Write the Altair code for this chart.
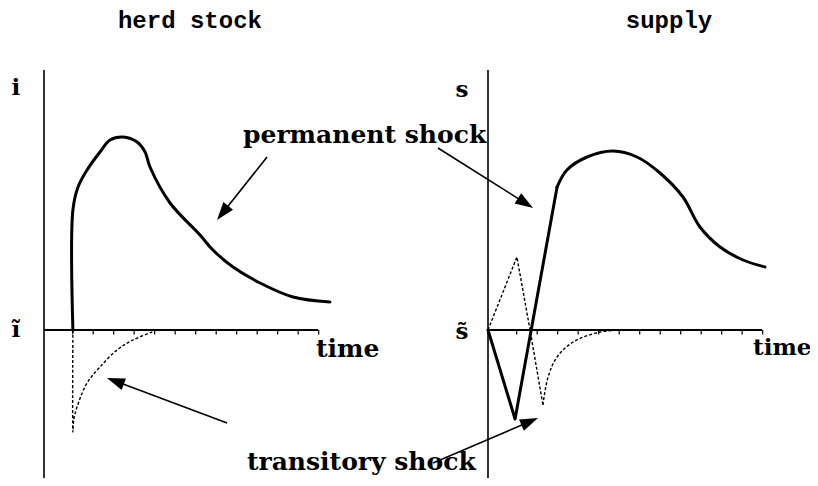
import math
import altair as alt
import pandas as pd

# ---------------- data (time units, deviation units) ----------------
left_perm_t = [1.41, 1.41, 1.66, 2.10, 2.73, 3.22, 3.85, 4.54, 4.93, 5.17, 6.15, 7.61, 8.24, 9.22, 10.54, 12.15, 13.95]
left_perm_v = [0, 12.0, 14.3, 16.0, 17.8, 19.0, 19.3, 18.8, 17.8, 16.3, 12.7, 9.5, 8.0, 6.3, 4.7, 3.3, 2.8]

left_trans_t = [1.41, 1.41, 1.45, 1.61, 2.10, 2.73, 3.56, 4.34, 5.41]
left_trans_v = [0, -10.2, -9.0, -7.7, -5.3, -3.7, -2.0, -1.0, -0.1]

right_perm_zig_t = [0, 1.32, 3.37]
right_perm_zig_v = [0, -8.9, 14.3]
right_perm_curve_t = [3.37, 3.85, 4.83, 6.10, 7.27, 8.39, 9.51, 10.34, 11.32, 12.44, 13.51]
right_perm_curve_v = [14.3, 16.0, 17.3, 17.9, 17.3, 15.7, 13.3, 10.3, 8.3, 7.0, 6.3]

right_trans_zig_t = [0, 1.41, 2.05, 2.68]
right_trans_zig_v = [0, 7.3, 0, -7.5]
right_trans_curve_t = [2.68, 2.93, 3.37, 4.15, 5.46, 6.44]
right_trans_curve_v = [-7.5, -4.7, -2.7, -1.2, -0.2, 0]

tick_t = [1.4, 2.4, 3.4, 4.4, 5.4, 6.4, 7.4, 8.4, 9.4, 10.4, 11.4, 12.4, 13.4]

panel_titles = ["herd stock", "supply"]
axis_top_labels = ["i", "s"]
axis_zero_labels = ["ĩ", "s̃"]
time_label = "time"
perm_label = "permanent shock"
trans_label = "transitory shock"

# ---------------- geometry ----------------
PX_T = 20.5          # pixels per time unit
PX_V = 10.0          # pixels per value unit
ORIGIN = {"L": 36, "R": 480}
T_DOM = [0, 14]
V_DOM = [-15, 26]
V_RANGE = [472, 62]
AXIS_END = 13.37

SERIF = "DejaVu Serif"
MONO = "Liberation Mono"
LABEL_SIZE = 25


def xs(p, field="t"):
    o = ORIGIN[p]
    return alt.X(f"{field}:Q", scale=alt.Scale(domain=T_DOM, range=[o, o + PX_T * (T_DOM[1] - T_DOM[0])]), axis=None)


def x2s(field="t2"):
    return alt.X2(f"{field}:Q")


def ys(field="v"):
    return alt.Y(f"{field}:Q", scale=alt.Scale(domain=V_DOM, range=V_RANGE), axis=None)


def series(ts, vs):
    return pd.DataFrame({"t": ts, "v": vs, "i": list(range(len(ts)))})


def line(p, ts, vs, dashed=False, interp="linear", width=3.0):
    kw = dict(color="black", strokeWidth=width, interpolate=interp, strokeCap="round", strokeJoin="round")
    if dashed:
        kw["strokeDash"] = [3, 2]
        kw["strokeWidth"] = 1.4
        kw["strokeCap"] = "butt"
    return alt.Chart(series(ts, vs)).mark_line(**kw).encode(
        x=xs(p), y=ys(), order=alt.Order("i:Q")
    )


layers = []

# axes
for p in ["L", "R"]:
    vaxis = pd.DataFrame({"t": [0], "v": [V_DOM[0]], "v2": [V_DOM[1]]})
    layers.append(alt.Chart(vaxis).mark_rule(color="black", strokeWidth=1.6).encode(
        x=xs(p), y=ys(), y2=alt.Y2("v2:Q")))
    haxis = pd.DataFrame({"t": [0], "t2": [AXIS_END], "v": [0]})
    layers.append(alt.Chart(haxis).mark_rule(color="black", strokeWidth=2.2).encode(
        x=xs(p), x2=x2s(), y=ys()))
    ticks = pd.DataFrame({"t": tick_t, "v": [0] * len(tick_t), "v2": [-0.45] * len(tick_t)})
    layers.append(alt.Chart(ticks).mark_rule(color="black", strokeWidth=1.2).encode(
        x=xs(p), y=ys(), y2=alt.Y2("v2:Q")))

# curves
layers.append(line("L", left_perm_t, left_perm_v, interp="catmull-rom"))
layers.append(line("L", left_trans_t, left_trans_v, dashed=True, interp="catmull-rom"))
layers.append(line("R", right_perm_zig_t, right_perm_zig_v))
layers.append(line("R", right_perm_curve_t, right_perm_curve_v, interp="catmull-rom"))
layers.append(line("R", right_trans_zig_t, right_trans_zig_v, dashed=True))
layers.append(line("R", right_trans_curve_t, right_trans_curve_v, dashed=True, interp="catmull-rom"))

# arrows: (panel, tail_t, tail_v, tip_t, tip_v)
arrows = [
    ("L", 10.88, 17.3, 8.44, 11.0),
    ("R", -2.44, 18.2, 2.20, 12.2),
    ("L", 8.93, -9.3, 3.07, -4.8),
    ("R", -2.68, -13.3, 2.44, -8.8),
]
HEAD = 18.0
for p, t0, v0, t1, v1 in arrows:
    dx = (t1 - t0) * PX_T
    dy = -(v1 - v0) * PX_V
    L = math.hypot(dx, dy)
    ux, uy = dx / L, dy / L
    ang = math.degrees(math.atan2(dx, -dy)) % 360
    ct = t1 - (HEAD / 2) * ux / PX_T
    cv = v1 + (HEAD / 2) * uy / PX_V
    bt = t1 - (HEAD * 0.8) * ux / PX_T
    bv = v1 + (HEAD * 0.8) * uy / PX_V
    seg = pd.DataFrame({"t": [t0], "v": [v0], "t2": [bt], "v2": [bv]})
    layers.append(alt.Chart(seg).mark_rule(color="black", strokeWidth=1.6).encode(
        x=xs(p), y=ys(), x2=x2s(), y2=alt.Y2("v2:Q")))
    head = pd.DataFrame({"t": [ct], "v": [cv], "a": [ang]})
    layers.append(alt.Chart(head).mark_point(
        shape="M0,-1L0.68,1L-0.68,1Z", filled=True, color="black", opacity=1, size=HEAD * HEAD, strokeWidth=0
    ).encode(x=xs(p), y=ys(), angle=alt.Angle("a:Q", scale=None)))


def text(p, t, v, s, size=LABEL_SIZE, font=SERIF, weight="bold", align="left"):
    df = pd.DataFrame({"t": [t], "v": [v], "s": [s]})
    return alt.Chart(df).mark_text(
        font=font, fontSize=size, fontWeight=weight, align=align, baseline="alphabetic", color="black"
    ).encode(x=xs(p), y=ys(), text="s:N")


# panel titles
layers.append(text("L", 7.12, 30.2, panel_titles[0], size=24, font=MONO, weight="bold", align="center"))
layers.append(text("R", 8.83, 30.2, panel_titles[1], size=24, font=MONO, weight="bold", align="center"))
# axis labels
layers.append(text("L", -1.37, 23.5, axis_top_labels[0], size=23, align="center"))
layers.append(text("R", -1.27, 23.3, axis_top_labels[1], size=23, align="center"))
layers.append(text("L", -1.37, -0.7, axis_zero_labels[0], size=23, align="center"))
layers.append(text("R", -1.27, -0.9, axis_zero_labels[1], size=23, align="center"))
layers.append(text("L", 13.27, -2.7, time_label))
layers.append(text("R", 12.93, -2.5, time_label, size=23))
# annotations
layers.append(text("L", 9.71, 18.7, perm_label))
layers.append(text("L", 9.90, -14.0, trans_label))

chart = alt.layer(*layers).resolve_scale(x="independent", y="independent").properties(
    width=802, height=470, autosize=alt.AutoSizeParams(type="none"), padding=0
).configure_view(stroke=None)

chart.save("out.html", embed_options={"renderer": "svg", "actions": False})
